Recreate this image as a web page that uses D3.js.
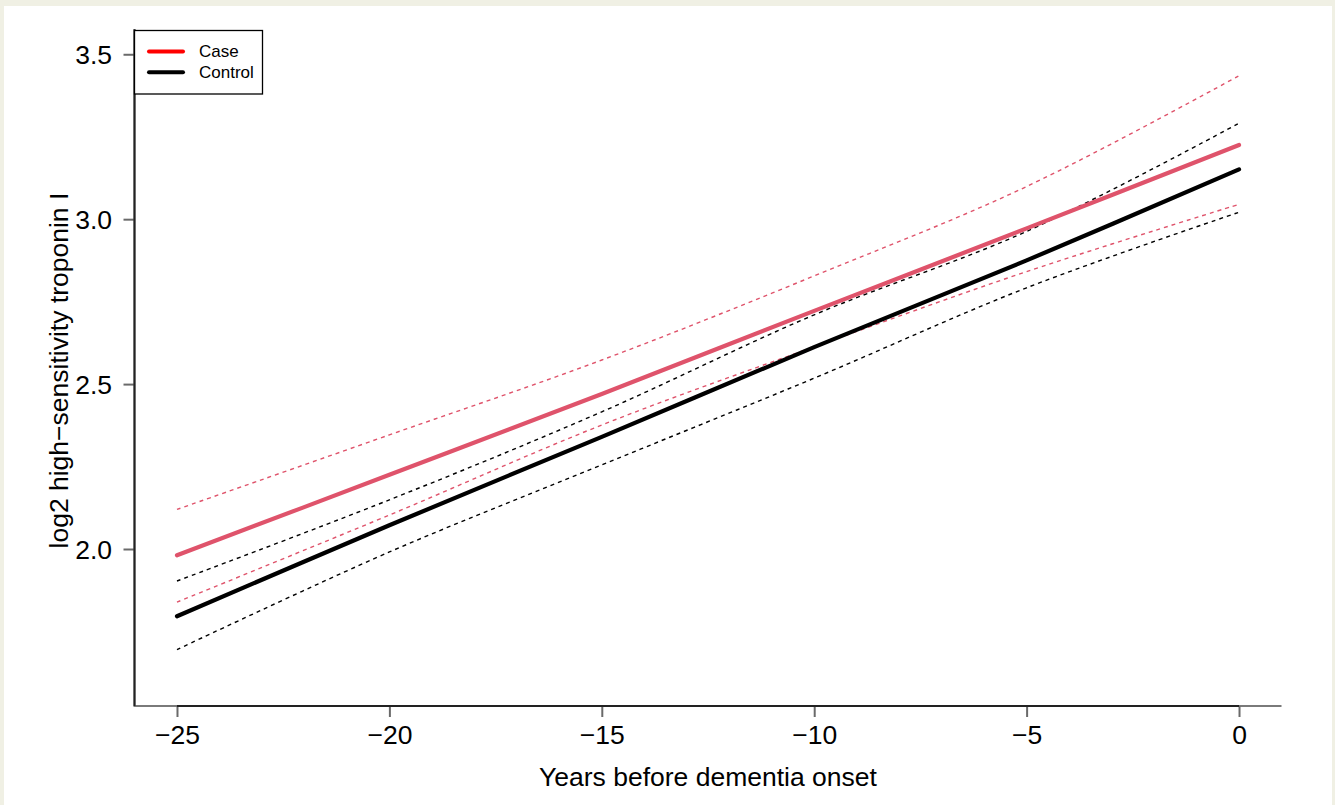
<!DOCTYPE html>
<html>
<head>
<meta charset="utf-8">
<script src="https://cdn.jsdelivr.net/npm/d3@7"></script>
<style>
  html, body { margin: 0; padding: 0; background: #f0f0e4; }
  svg { display: block; }
</style>
</head>
<body>
<script>
// ---- data ----
const years = [-25, -20, -15, -10, -5, 0];
const caseMean     = [1.981, 2.225, 2.470, 2.722, 2.972, 3.225];
const caseUpper    = [2.120, 2.346, 2.573, 2.828, 3.099, 3.435];
const caseLower    = [1.839, 2.103, 2.376, 2.613, 2.841, 3.045];
const controlMean  = [1.796, 2.072, 2.340, 2.612, 2.875, 3.151];
const controlUpper = [1.903, 2.149, 2.416, 2.710, 2.963, 3.291];
const controlLower = [1.695, 1.991, 2.255, 2.518, 2.792, 3.021];
const xTicks = [-25, -20, -15, -10, -5, 0];
const yTicks = [2.0, 2.5, 3.0, 3.5];
const legendLabels = ["Case", "Control"];
const xTitle = "Years before dementia onset";
const yTitle = "log2 high\u2212sensitivity troponin I";

const W = 1335, H = 805;
const FONT = "'Liberation Sans', Arial, Helvetica, sans-serif";
const RED = "#DF536B";

const svg = d3.select("body").append("svg").attr("width", W).attr("height", H);
svg.append("rect").attr("x", 0).attr("y", 0).attr("width", W).attr("height", H).attr("fill", "#f0f0e4");
svg.append("rect").attr("x", 4).attr("y", 6).attr("width", 1328).attr("height", 799).attr("fill", "#ffffff");

const x = d3.scaleLinear().domain([-26, 1]).range([134.5, 1281.5]);
const y = d3.scaleLinear().domain([1.524, 3.576]).range([706, 29.2]);

// box (L shape)
svg.append("path")
  .attr("d", `M${x(-26)},${y(3.576)}V${y(1.524)}H${x(1)}`)
  .attr("fill", "none").attr("stroke", "#7a7a7a").attr("stroke-width", 2);

// axes
const gx = svg.append("g").attr("transform", `translate(0,${y(1.524)})`)
  .call(d3.axisBottom(x).tickValues(xTicks).tickSize(11).tickFormat(d => d3.format("d")(d).replace("-", "\u2212")));
gx.select(".domain").remove();
gx.selectAll(".tick line").attr("stroke", "#6a6a6a").attr("stroke-width", 2);
gx.selectAll(".tick text").attr("y", 28.5).attr("dy", null).attr("dominant-baseline", "central")
  .attr("font-family", FONT).attr("font-size", 26.5).attr("fill", "#000");
svg.append("line").attr("x1", x(xTicks[0])).attr("x2", x(xTicks[xTicks.length - 1]))
  .attr("y1", y(1.524)).attr("y2", y(1.524)).attr("stroke", "#222").attr("stroke-width", 2);

const gy = svg.append("g").attr("transform", `translate(${x(-26)},0)`)
  .call(d3.axisLeft(y).tickValues(yTicks).tickSize(11).tickFormat(d3.format(".1f")));
gy.select(".domain").remove();
gy.selectAll(".tick line").attr("stroke", "#6a6a6a").attr("stroke-width", 2);
gy.selectAll(".tick text").attr("x", -22.5).attr("dy", null).attr("dominant-baseline", "central")
  .attr("font-family", FONT).attr("font-size", 26.5).attr("fill", "#000");
svg.append("line").attr("x1", x(-26)).attr("x2", x(-26))
  .attr("y1", y(3.576)).attr("y2", y(1.524)).attr("stroke", "#222").attr("stroke-width", 2);

// titles
svg.append("text").attr("x", (x(-26) + x(1)) / 2).attr("y", 786)
  .attr("text-anchor", "middle").attr("font-family", FONT).attr("font-size", 26.5).text(xTitle);
svg.append("text").attr("transform", `translate(68,${(y(1.524) + y(3.576)) / 2 + 3}) rotate(-90)`)
  .attr("text-anchor", "middle").attr("font-family", FONT).attr("font-size", 26.5).text(yTitle);

// lines
const line = d3.line().x(d => x(d[0])).y(d => y(d[1])).curve(d3.curveCatmullRom.alpha(0.5));
function draw(vals, color, width, dash) {
  svg.append("path").datum(years.map((yr, i) => [yr, vals[i]]))
    .attr("d", line).attr("fill", "none").attr("stroke", color)
    .attr("stroke-width", width).attr("stroke-linecap", dash ? "butt" : "round")
    .attr("stroke-dasharray", dash ? "4,4" : null);
}
draw(caseUpper, RED, 1.4, true);
draw(caseLower, RED, 1.4, true);
draw(controlUpper, "#000", 1.4, true);
draw(controlLower, "#000", 1.4, true);
draw(caseMean, RED, 4.2, false);
draw(controlMean, "#000", 4.2, false);

// legend
const lg = svg.append("g");
lg.append("rect").attr("x", 134.5).attr("y", 30.5).attr("width", 128).attr("height", 63.5)
  .attr("fill", "#fff").attr("stroke", "#000").attr("stroke-width", 1.3);
const legendColors = ["#FF0000", "#000000"];
legendLabels.forEach((lab, i) => {
  const yy = 51.5 + i * 20.8;
  lg.append("line").attr("x1", 149).attr("x2", 183).attr("y1", yy).attr("y2", yy)
    .attr("stroke", legendColors[i]).attr("stroke-width", 4).attr("stroke-linecap", "round");
  lg.append("text").attr("x", 199).attr("y", yy).attr("dominant-baseline", "central")
    .attr("font-family", FONT).attr("font-size", 17).text(lab);
});
</script>
</body>
</html>
